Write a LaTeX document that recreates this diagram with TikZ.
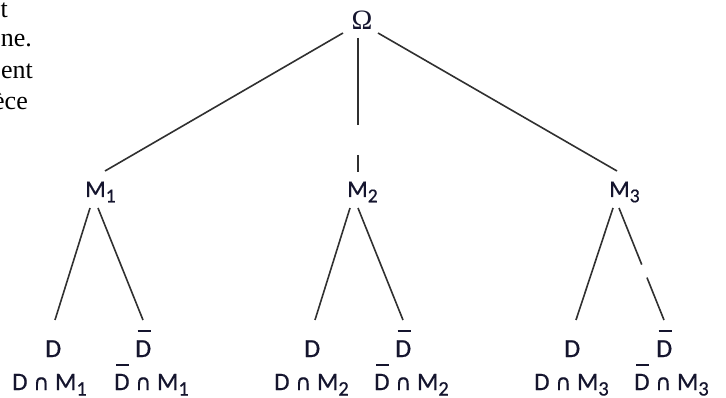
\documentclass[tikz,border=0pt]{standalone}
\usepackage{fontspec}
\setmainfont{Liberation Serif}
\newfontfamily\lab[FakeBold=0.6]{Carlito}
\newfontfamily\symf[FakeBold=0.6]{DejaVu Sans}
\definecolor{ink}{HTML}{15152E}
\definecolor{branch}{HTML}{303030}
\newcommand\sbs[1]{\raisebox{-0.22em}{\scalebox{0.82}{#1}}}
\newcommand\Db{\leavevmode\rlap{\hspace{0.09em}\rule[0.98em]{0.5em}{0.075em}}D}
\newcommand\capsym{{\symf\fontsize{22}{22}\selectfont ∩}}
\tikzset{
  mlab/.style={anchor=base west, inner sep=0pt, text=ink, font=\lab\fontsize{24}{24}\selectfont},
  dlab/.style={anchor=base west, inner sep=0pt, text=ink, font=\lab\fontsize{26}{26}\selectfont},
  blab/.style={anchor=base west, inner sep=0pt, text=ink, font=\lab\fontsize{25}{25}\selectfont},
  toptext/.style={anchor=base east, inner sep=0pt, text=black, font=\fontsize{26}{26}\selectfont},
  br/.style={draw=branch, line width=1.6pt}
}
\begin{document}
\begin{tikzpicture}[x=1pt, y=-1pt]
\useasboundingbox (0,0) rectangle (726,398);
% cut-off text at upper left
\node[toptext] (t1) at (8,18) {t};
\node[toptext] (t2) at (32,47) {ne.};
\node[toptext] (t3) at (33,79) {ent};
\node[toptext] (t4) at (28,110) {èce};
% root
\node[inner sep=0pt, text=ink, font=\fontsize{28}{28}\selectfont] (Om) at (362,20) {Ω};
% level 1
\node[mlab] (M1) at (85,197) {M\sbs{1}};
\node[mlab] (M2) at (347,197) {M\sbs{2}};
\node[mlab] (M3) at (609,197) {M\sbs{3}};
% level 2
\node[dlab] (D1) at (45,357) {D};
\node[dlab] (Db1) at (135,357) {\Db};
\node[dlab] (D2) at (304,357) {D};
\node[dlab] (Db2) at (395,357) {\Db};
\node[dlab] (D3) at (564,357) {D};
\node[dlab] (Db3) at (656,357) {\Db};
% intersections
\node[blab] (I1) at (12,390) {D \capsym{} M\sbs{1}};
\node[blab] (J1) at (114,390) {\Db{} \capsym{} M\sbs{1}};
\node[blab] (I2) at (274,390) {D \capsym{} M\sbs{2}};
\node[blab] (J2) at (374,390) {\Db{} \capsym{} M\sbs{2}};
\node[blab] (I3) at (534,390) {D \capsym{} M\sbs{3}};
\node[blab] (J3) at (634,390) {\Db{} \capsym{} M\sbs{3}};
% branches
\draw[br] ([shift={(-19,13)}]Om.center) -- ([shift={(20,-26)}]M1.base west);
\draw[br, dash pattern=on 87pt off 30pt on 40pt] ([shift={(-4,18)}]Om.center) -- ([shift={(11,-25)}]M2.base west);
\draw[br] ([shift={(16,13)}]Om.center) -- ([shift={(8,-26)}]M3.base west);
\draw[br] ([shift={(5,11)}]M1.base west) -- ([shift={(10,-37)}]D1.base west);
\draw[br] ([shift={(13,11)}]M1.base west) -- ([shift={(8,-37)}]Db1.base west);
\draw[br] ([shift={(3,11)}]M2.base west) -- ([shift={(11,-37)}]D2.base west);
\draw[br] ([shift={(11,11)}]M2.base west) -- ([shift={(8,-37)}]Db2.base west);
\draw[br] ([shift={(4,11)}]M3.base west) -- ([shift={(12,-37)}]D3.base west);
\draw[br, dash pattern=on 61pt off 14pt on 60pt] ([shift={(10,11)}]M3.base west) -- ([shift={(8,-37)}]Db3.base west);
\end{tikzpicture}
\end{document}
